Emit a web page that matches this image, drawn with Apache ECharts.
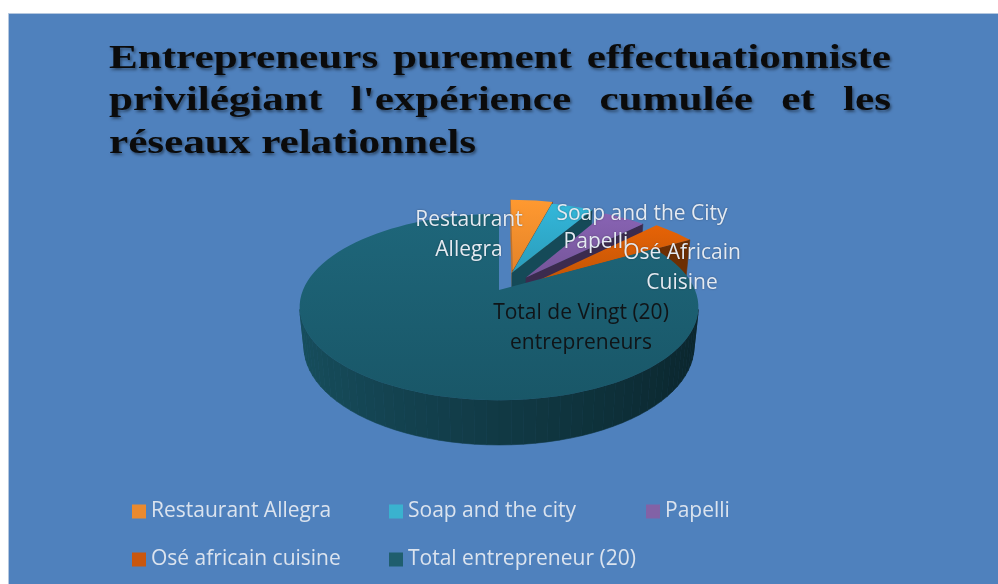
<!DOCTYPE html>
<html>
<head>
<meta charset="utf-8">
<script src="https://cdn.jsdelivr.net/npm/echarts@6/dist/echarts.min.js"></script>
<style>
  html, body { margin: 0; padding: 0; background: #fff; }
  #pie-chart { width: 998px; height: 584px; }
</style>
</head>
<body>
<div id="pie-chart"></div>
<script>
// data
var slice_names = ['Restaurant Allegra', 'Soap and the city', 'Papelli', 'Osé africain cuisine', 'Total entrepreneur (20)'];
var slice_labels = ['Restaurant\nAllegra', 'Soap and the City', 'Papelli', 'Osé Africain\nCuisine', 'Total de Vingt (20)\nentrepreneurs'];
var slice_values = [1, 1, 1, 1, 20];
var title_lines = [
  ['Entrepreneurs', 'purement', 'effectuationniste'],
  ['privilégiant', "l'expérience", 'cumulée', 'et', 'les'],
  ['réseaux', 'relationnels']
];

// look
var top_colors = ['#F38B2C', '#2EA6C6', '#7C5AA3', '#D15A05', '#1B5D6F'];
var legend_colors = ['#EB8A2E', '#3AB2CF', '#8262A6', '#C9570E', '#1F5E6E'];
var label_colors = ['#e4eaf2', '#e4eaf2', '#e4eaf2', '#e4eaf2', '#101417'];
// each slice was pulled out by hand in the original: amount (x radius) and direction (deg)
var explode_amount = [0.24, 0.21, 0.2, 0.25, 0];
var explode_dir = [18, 19, 45, 61, 0];
// label anchors, pixels from the pie centre
var label_offsets = [[-30, -55], [143, -76], [97, -48], [183, -22], [82, 38]];

// fake 3d projection of the pie
var CX = 499, CY = 290, HALF_W = 196;
var DIST = 4.84, SIN_T = 0.459, COS_T = 0.889, THICK = 0.229;
var FOCAL = HALF_W * DIST;
var RAD = Math.PI / 180;

function project(x, z, y) {
  var yc = z * SIN_T + y * COS_T;
  var zc = DIST + z * COS_T - y * SIN_T;
  return [CX + FOCAL * x / zc, CY - FOCAL * yc / zc];
}

function facing(nx, nz, px, pz) {
  // camera sits at x=0, z=-DIST*COS_T
  return nx * (0 - px) + nz * (-DIST * COS_T - pz) > 0;
}

function shade(hex, k) {
  var r = parseInt(hex.substr(1, 2), 16), g = parseInt(hex.substr(3, 2), 16), b = parseInt(hex.substr(5, 2), 16);
  var f = function (v) { return Math.max(0, Math.min(255, Math.round(v * k))); };
  return 'rgb(' + f(r) + ',' + f(g) + ',' + f(b) + ')';
}

var total_value = slice_values.reduce(function (a, b) { return a + b; }, 0);

function render_slice(params, api) {
  var i = params.seriesIndex;
  var start = 0;
  for (var j = 0; j < i; j++) start += slice_values[j];
  var value = api.value(0);
  var a0 = start / total_value * 360;
  var a1 = (start + value) / total_value * 360;
  var ox = explode_amount[i] * Math.sin(explode_dir[i] * RAD);
  var oz = explode_amount[i] * Math.cos(explode_dir[i] * RAD);
  var color = top_colors[i];
  var rim = function (a, y) {
    return project(ox + Math.sin(a * RAD), oz + Math.cos(a * RAD), y);
  };
  var children = [];
  var steps = Math.max(4, Math.ceil((a1 - a0) / 3));

  // outer wall
  for (var k = 0; k < steps; k++) {
    var t0 = a0 + (a1 - a0) * k / steps;
    var t1 = a0 + (a1 - a0) * (k + 1) / steps;
    var tm = (t0 + t1) / 2 * RAD;
    var nx = Math.sin(tm), nz = Math.cos(tm);
    if (!facing(nx, nz, ox + nx, oz + nz)) continue;
    var fill = shade(color, 0.62 - 0.22 * nx);
    children.push({
      type: 'polygon',
      z2: i * 10 + 1,
      shape: { points: [rim(t0, 0), rim(t1, 0), rim(t1, -THICK), rim(t0, -THICK)] },
      style: { fill: fill, stroke: fill, lineWidth: 0.6 }
    });
  }

  // cut faces
  var cuts = [
    { a: a0, nx: -Math.cos(a0 * RAD), nz: Math.sin(a0 * RAD) },
    { a: a1, nx: Math.cos(a1 * RAD), nz: -Math.sin(a1 * RAD) }
  ];
  cuts.forEach(function (c) {
    if (!facing(c.nx, c.nz, ox, oz)) return;
    var f2 = shade(color, 0.62 - 0.2 * c.nx);
    children.push({
      type: 'polygon',
      z2: i * 10 + 2,
      shape: { points: [project(ox, oz, 0), rim(c.a, 0), rim(c.a, -THICK), project(ox, oz, -THICK)] },
      style: { fill: f2, stroke: f2, lineWidth: 0.6 }
    });
  });

  // top face
  var pts = [project(ox, oz, 0)];
  for (var m = 0; m <= steps; m++) pts.push(rim(a0 + (a1 - a0) * m / steps, 0));
  children.push({
    type: 'polygon',
    z2: i * 10 + 3,
    shape: { points: pts },
    style: {
      fill: new echarts.graphic.LinearGradient(0, 0, 0, 1, [
        { offset: 0, color: shade(color, 1.1) },
        { offset: 1, color: shade(color, 0.94) }
      ])
    }
  });

  // data label
  children.push({
    type: 'text',
    z2: 200,
    x: CX + label_offsets[i][0],
    y: CY + label_offsets[i][1],
    style: {
      text: slice_labels[i],
      fill: label_colors[i],
      fontSize: 21,
      fontFamily: '"Open Sans", sans-serif',
      align: 'center',
      verticalAlign: 'middle',
      lineHeight: 30,
      textShadowColor: i < 4 ? 'rgba(0,0,0,0.35)' : 'rgba(0,0,0,0)',
      textShadowBlur: 2
    }
  });
  return { type: 'group', children: children };
}

function build_title() {
  var font = 'bold 33px "Liberation Serif"';
  var ctx = document.createElement('canvas').getContext('2d');
  ctx.font = font;
  var tw = function (s) { return ctx.measureText(s).width; };
  var left = 109, right = 891;
  var centers = [59, 101, 144];
  var stretch = 367 / tw(title_lines[2].join(' '));
  var els = [];
  title_lines.forEach(function (words, li) {
    var widths = words.map(function (w) { return tw(w) * stretch; });
    var sum = widths.reduce(function (a, b) { return a + b; }, 0);
    var gap = li < 2 ? (right - left - sum) / (words.length - 1) : tw(' ') * stretch;
    var x = left;
    words.forEach(function (w, wi) {
      els.push({
        type: 'text',
        x: x,
        y: centers[li],
        scaleX: stretch,
        z: 10,
        style: {
          text: w,
          font: font,
          fill: '#0b0b0b',
          align: 'left',
          verticalAlign: 'middle',
          textShadowColor: 'rgba(0,0,0,0.45)',
          textShadowBlur: 3,
          textShadowOffsetX: 1.5,
          textShadowOffsetY: 2
        }
      });
      x += widths[wi] + gap;
    });
  });
  return els;
}

function draw_pie_chart() {
  var pie_chart = echarts.init(document.getElementById('pie-chart'));
  var graphics = [{
    type: 'rect',
    z: -10,
    shape: { x: 8.5, y: 13.5, width: 1000, height: 600 },
    style: { fill: '#4F81BD', stroke: '#b4c7df', lineWidth: 1 }
  }].concat(build_title());

  var series = slice_names.map(function (name, i) {
    return {
      name: name,
      type: 'custom',
      coordinateSystem: 'none',
      itemStyle: { color: legend_colors[i] },
      renderItem: render_slice,
      data: [[slice_values[i]]]
    };
  });

  var option = {
    animation: false,
    backgroundColor: '#ffffff',
    graphic: graphics,
    legend: {
      data: slice_names,
      left: 132,
      top: 501,
      width: 790,
      padding: 0,
      icon: 'rect',
      itemWidth: 14,
      itemHeight: 14,
      itemGap: 27,
      formatter: '{n|{name}}',
      textStyle: {
        rich: {
          n: {
            width: 211,
            lineHeight: 20,
            fontSize: 21,
            fontFamily: '"Open Sans", sans-serif',
            color: '#dbe3ee'
          }
        }
      }
    },
    series: series
  };
  pie_chart.setOption(option);
  window.addEventListener('resize', function () {
    pie_chart.resize();
  });
}

draw_pie_chart();
</script>
</body>
</html>
